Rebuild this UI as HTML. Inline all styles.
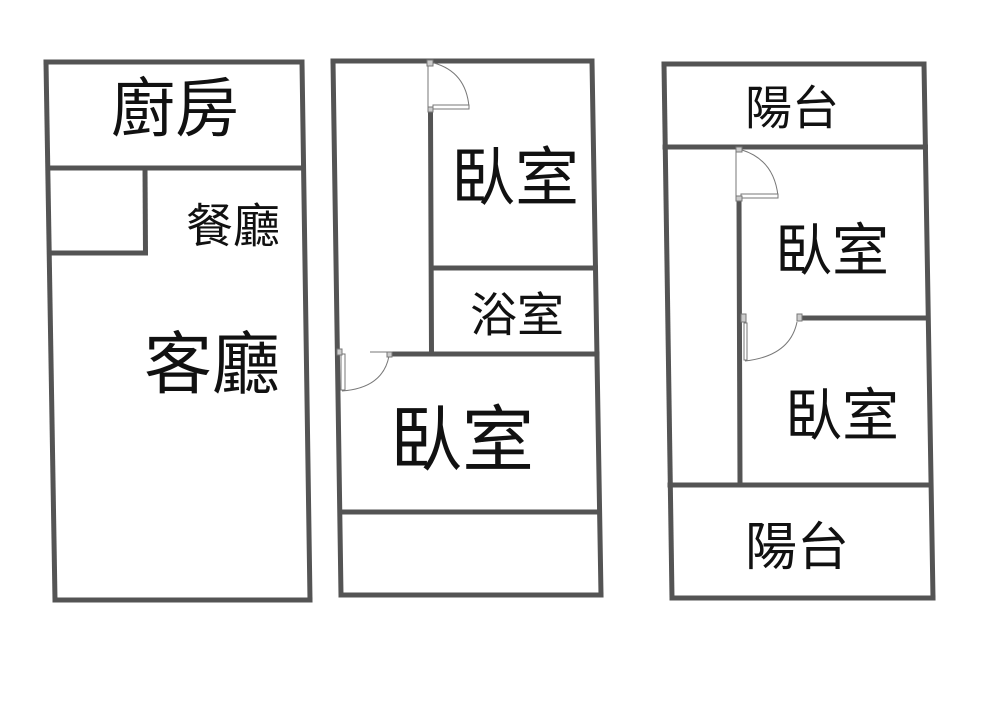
<!DOCTYPE html>
<html><head><meta charset="utf-8"><style>
html,body{margin:0;padding:0;background:#fff;}
svg{display:block;}
text{font-family:"Liberation Sans","Noto Sans CJK TC","Noto Sans CJK SC",sans-serif;fill:#111;text-anchor:middle;dominant-baseline:central;}
</style></head><body>
<svg width="1000" height="721" viewBox="0 0 1000 721" xmlns="http://www.w3.org/2000/svg">
<rect width="1000" height="721" fill="#fff"/>
<g stroke="#545454" stroke-width="5" stroke-linecap="square" fill="none">
<!-- Plan 1 -->
<line x1="46" y1="62" x2="302" y2="62"/>
<line x1="46" y1="62" x2="55" y2="600"/>
<line x1="302" y1="62" x2="310" y2="600"/>
<line x1="55" y1="600" x2="310" y2="600"/>
<line x1="48" y1="168" x2="303.5" y2="168"/>
<line x1="145" y1="168" x2="145.5" y2="253"/>
<line x1="49.5" y1="253" x2="145.5" y2="253"/>
<!-- Plan 2 -->
<line x1="333" y1="61" x2="592" y2="61"/>
<line x1="333" y1="61" x2="341" y2="595"/>
<line x1="592" y1="61" x2="601" y2="595"/>
<line x1="341" y1="595" x2="601" y2="595"/>
<line x1="430.5" y1="113" x2="431.5" y2="353"/>
<line x1="432" y1="268" x2="595.5" y2="268"/>
<line x1="392" y1="354" x2="597" y2="354"/>
<line x1="340" y1="512" x2="599.5" y2="512"/>
<!-- Plan 3 -->
<line x1="664" y1="64" x2="924" y2="64"/>
<line x1="664" y1="64" x2="672" y2="598"/>
<line x1="924" y1="64" x2="933" y2="598"/>
<line x1="672" y1="598" x2="933" y2="598"/>
<line x1="665" y1="147" x2="925.5" y2="147"/>
<line x1="739" y1="199" x2="740" y2="483"/>
<line x1="802" y1="318" x2="928" y2="318"/>
<line x1="670" y1="485" x2="931" y2="485"/>
</g>
<!-- doors -->
<g stroke="#777" stroke-width="1" fill="none">
<!-- plan2 top door -->
<line x1="428" y1="64" x2="428" y2="108"/>
<path d="M434 63 Q466 72 469 107"/>
<path d="M433 105 L469 105 L469 109 L433 109 Z" fill="#fff"/>
<rect x="427" y="60" width="6" height="6" fill="#ccc"/>
<rect x="428" y="107" width="5" height="5" fill="#ccc"/>
<!-- plan2 lower-left door -->
<path d="M389 356 Q383 388 342 391"/>
<path d="M341 354 L345 354 L345 390 L341 390 Z" fill="#fff"/>
<rect x="337" y="349" width="5" height="6" fill="#ccc"/>
<rect x="387" y="352" width="5" height="5" fill="#ccc"/>
<line x1="370" y1="352" x2="388" y2="352"/>
<!-- plan3 top door -->
<line x1="736" y1="150" x2="736" y2="196"/>
<path d="M742 150 Q774 160 778 196"/>
<path d="M741 194 L778 194 L778 198 L741 198 Z" fill="#fff"/>
<rect x="736" y="147" width="6" height="5" fill="#ccc"/>
<rect x="736" y="196" width="6" height="5" fill="#ccc"/>
<!-- plan3 middle door -->
<path d="M797 322 Q790 356 745 361"/>
<path d="M744 323 L747 323 L747 360 L744 360 Z" fill="#fff"/>
<rect x="741" y="314" width="5" height="8" fill="#ccc"/>
<rect x="797" y="314" width="5" height="7" fill="#ccc"/>
</g>
<!-- labels -->
<text x="175" y="109" font-size="64">廚房</text>
<text x="233" y="226" font-size="47">餐廳</text>
<text x="212" y="365" font-size="68">客廳</text>
<text x="515" y="178" font-size="64">臥室</text>
<text x="517" y="315" font-size="47">浴室</text>
<text x="462" y="441" font-size="72">臥室</text>
<text x="792" y="108" font-size="47">陽台</text>
<text x="832" y="251" font-size="57">臥室</text>
<text x="842" y="416" font-size="57">臥室</text>
<text x="797" y="548" font-size="52">陽台</text>
</svg>
</body></html>
